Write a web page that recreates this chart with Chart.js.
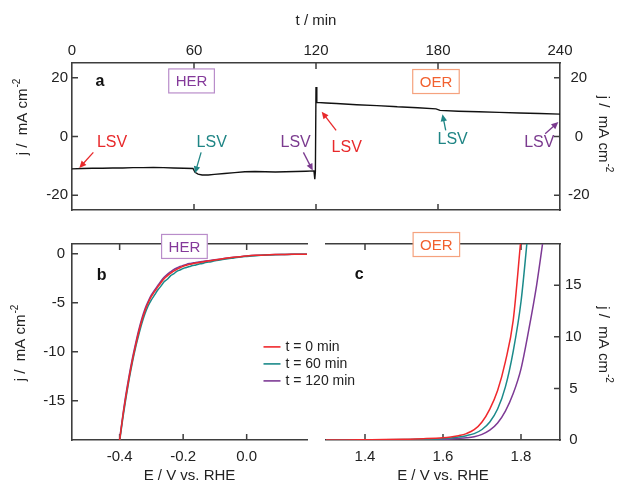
<!DOCTYPE html>
<html>
<head>
<meta charset="utf-8">
<title>HER / OER stability</title>
<script src="https://cdn.jsdelivr.net/npm/chart.js@4.4.1/dist/chart.umd.min.js"></script>
<style>
  html, body { margin: 0; padding: 0; background: #fff; }
  #wrap { position: relative; width: 618px; height: 483px; }
  #wrap canvas { position: absolute; left: 0; top: 0; }
</style>
</head>
<body>
<div id="wrap">
  <canvas id="chartA" width="618" height="483"></canvas>
  <canvas id="chartB" width="618" height="483"></canvas>
  <canvas id="chartC" width="618" height="483"></canvas>
</div>
<script>
// chronoamperometry: HER 0-120 min, then OER 120-240 min
const tMin = [0, 5, 10, 15, 20, 25, 30, 35, 40, 45, 50, 55, 59.5, 60.5, 62, 64, 67, 70,
  75, 80, 85, 90, 95, 100, 105, 110, 115, 119, 119.4, 119.7, 120, 120.4,
  125, 130, 140, 150, 158, 160, 170, 179, 181, 190, 200, 210, 220, 230, 240];
const jChrono = [-11.0, -10.9, -10.8, -10.8, -10.7, -10.7, -10.6, -10.6, -10.5, -10.6, -10.7, -10.8, -10.9, -12.2, -12.8, -13.1, -13.1, -12.9,
  -12.6, -12.3, -12.0, -11.9, -12.0, -12.1, -12.0, -11.9, -11.8, -11.7, -14.5, -12.0, 16.8, 11.6,
  11.4, 11.2, 10.8, 10.5, 10.2, 10.1, 9.8, 9.4, 8.9, 8.6, 8.4, 8.2, 8.0, 7.8, 7.6];

// LSV curves, HER side
const eHER = [-0.402, -0.39, -0.38, -0.37, -0.36, -0.35, -0.34, -0.33, -0.32, -0.31, -0.30, -0.29, -0.28, -0.27,
  -0.26, -0.25, -0.24, -0.23, -0.22, -0.21, -0.20, -0.19, -0.18, -0.17, -0.16, -0.15, -0.14, -0.13, -0.12,
  -0.10, -0.08, -0.06, -0.04, -0.02, 0.00, 0.03, 0.06, 0.09, 0.12, 0.15, 0.19];
const jHER0 = [-19.5, -16.6, -14.5, -12.6, -10.9, -9.4, -8.0, -6.8, -5.8, -5.0, -4.35, -3.85, -3.4, -2.95,
  -2.55, -2.25, -2.0, -1.78, -1.58, -1.42, -1.28, -1.17, -1.08, -1.01, -0.95, -0.89, -0.84, -0.78, -0.73,
  -0.63, -0.53, -0.44, -0.36, -0.29, -0.23, -0.16, -0.11, -0.08, -0.06, -0.05, -0.04];
const jHER60 = [-19.6, -16.8, -14.7, -12.8, -11.1, -9.6, -8.3, -7.1, -6.1, -5.3, -4.7, -4.2, -3.7, -3.3,
  -2.85, -2.6, -2.25, -2.05, -1.8, -1.65, -1.5, -1.4, -1.3, -1.2, -1.15, -1.05, -1.0, -0.88, -0.85,
  -0.72, -0.62, -0.5, -0.42, -0.33, -0.27, -0.19, -0.13, -0.09, -0.07, -0.05, -0.04];
const jHER120 = [-19.4, -16.5, -14.3, -12.4, -10.7, -9.2, -7.8, -6.6, -5.6, -4.85, -4.2, -3.7, -3.25, -2.8,
  -2.4, -2.1, -1.85, -1.62, -1.45, -1.3, -1.18, -1.08, -1.0, -0.94, -0.88, -0.83, -0.79, -0.74, -0.7,
  -0.61, -0.52, -0.44, -0.36, -0.29, -0.23, -0.16, -0.11, -0.08, -0.06, -0.05, -0.04];

// LSV curves, OER side
const eOER = [1.30, 1.35, 1.40, 1.45, 1.50, 1.55, 1.60, 1.62, 1.64, 1.66, 1.68, 1.70, 1.72, 1.74, 1.76, 1.78, 1.80, 1.82, 1.84, 1.86];
const jOER0 = [0, 0.01, 0.03, 0.05, 0.08, 0.13, 0.22, 0.30, 0.42, 0.62, 1.0, 1.75, 3.0, 4.8, 7.6, 11.6, 19.6, null, null, null];
const jOER60 = [0, 0, 0.01, 0.02, 0.04, 0.07, 0.13, 0.19, 0.28, 0.42, 0.62, 1.02, 1.75, 3.0, 5.15, 8.6, 13.4, 21.0, null, null];
const jOER120 = [0, 0, 0, 0.01, 0.02, 0.04, 0.07, 0.10, 0.15, 0.21, 0.32, 0.55, 0.95, 1.65, 2.8, 4.5, 6.9, 10.7, 15.0, 20.3];

const runLabels = ['t = 0 min', 't = 60 min', 't = 120 min'];

// tick values
const tTicks = [0, 60, 120, 180, 240];
const jTicksA = [-20, 0, 20];
const eTicksHER = [-0.4, -0.2, 0.0];
const jTicksHER = [-15, -10, -5, 0];
const eTicksOER = [1.4, 1.6, 1.8];
const jTicksOER = [0, 5, 10, 15];

const FONT = "'Liberation Sans', Arial, Helvetica, sans-serif";
const axisColor = '#3e3e3e';
const red = '#f0282c', teal = '#1b8a8a', purple = '#7d3a95';

Chart.defaults.font.family = FONT;
Chart.defaults.font.size = 15;
Chart.defaults.color = '#222';

const pts = (xs, ys) => xs.map((x, i) => ({ x: x, y: ys[i] }));
const fixTicks = vals => scale => { scale.ticks = vals.map(v => ({ value: v })); };

function inwardTicks(chart, id, sides) {
  const s = chart.scales[id], a = chart.chartArea, ctx = chart.ctx, len = 6;
  ctx.save();
  ctx.strokeStyle = axisColor;
  ctx.lineWidth = 1.5;
  ctx.beginPath();
  s.ticks.forEach(t => {
    const p = s.getPixelForValue(t.value);
    if (s.isHorizontal()) {
      if (p <= a.left + 1 || p >= a.right - 1) return;
      if (sides.includes('top')) { ctx.moveTo(p, a.top); ctx.lineTo(p, a.top + len); }
      if (sides.includes('bottom')) { ctx.moveTo(p, a.bottom); ctx.lineTo(p, a.bottom - len); }
    } else {
      if (p <= a.top + 1 || p >= a.bottom - 1) return;
      if (sides.includes('left')) { ctx.moveTo(a.left, p); ctx.lineTo(a.left + len, p); }
      if (sides.includes('right')) { ctx.moveTo(a.right, p); ctx.lineTo(a.right - len, p); }
    }
  });
  ctx.stroke();
  ctx.restore();
}

function arrow(ctx, x0, y0, x1, y1, color) {
  const ang = Math.atan2(y1 - y0, x1 - x0), head = 7, half = 3.2;
  const c = Math.cos(ang), s = Math.sin(ang);
  ctx.strokeStyle = color;
  ctx.fillStyle = color;
  ctx.lineWidth = 1.3;
  ctx.beginPath();
  ctx.moveTo(x0, y0);
  ctx.lineTo(x1 - head * 0.8 * c, y1 - head * 0.8 * s);
  ctx.stroke();
  ctx.beginPath();
  ctx.moveTo(x1, y1);
  ctx.lineTo(x1 - head * c + half * s, y1 - head * s - half * c);
  ctx.lineTo(x1 - head * c - half * s, y1 - head * s + half * c);
  ctx.closePath();
  ctx.fill();
}

// "j /  mA cm-2" with a raised exponent, rotated along the axis
function jTitle(ctx, cx, cy, rot) {
  const main = 'j /  mA cm', sup = '-2';
  ctx.save();
  ctx.translate(cx, cy);
  ctx.rotate(rot);
  ctx.fillStyle = '#222';
  ctx.textBaseline = 'middle';
  ctx.textAlign = 'left';
  ctx.font = '15px ' + FONT;
  const w1 = ctx.measureText(main).width;
  ctx.font = '10px ' + FONT;
  const w2 = ctx.measureText(sup).width;
  const x0 = -(w1 + w2 + 1) / 2;
  ctx.font = '15px ' + FONT;
  ctx.fillText(main, x0, 0);
  ctx.font = '10px ' + FONT;
  ctx.fillText(sup, x0 + w1 + 1, -6);
  ctx.restore();
}

function decorations(cfg) {
  return {
    id: 'decorations',
    beforeDatasetsDraw(chart) {
      cfg.ticks.forEach(([id, sides]) => inwardTicks(chart, id, sides));
    },
    afterDraw(chart) {
      const ctx = chart.ctx, a = chart.chartArea;
      const xs = chart.scales.x, ys = chart.scales.y;
      const px = v => xs.getPixelForValue(v), py = v => ys.getPixelForValue(v);
      ctx.save();

      // LSV markers
      (cfg.notes || []).forEach(n => {
        arrow(ctx, px(n.from[0]), py(n.from[1]), px(n.to[0]), py(n.to[1]), n.color);
        ctx.fillStyle = n.color;
        ctx.font = '16px ' + FONT;
        ctx.textAlign = 'center';
        ctx.textBaseline = 'middle';
        ctx.fillText('LSV', px(n.at[0]), py(n.at[1]));
      });

      // reaction tags
      (cfg.boxes || []).forEach(b => {
        ctx.font = '15px ' + FONT;
        const w = ctx.measureText(b.text).width + 14, h = 24;
        const cx = px(b.at[0]), cy = py(b.at[1]);
        ctx.fillStyle = '#fff';
        ctx.fillRect(cx - w / 2, cy - h / 2, w, h);
        ctx.strokeStyle = b.edge;
        ctx.lineWidth = 1.2;
        ctx.strokeRect(cx - w / 2, cy - h / 2, w, h);
        ctx.fillStyle = b.color;
        ctx.textAlign = 'center';
        ctx.textBaseline = 'middle';
        ctx.fillText(b.text, cx, cy + 1);
      });

      // panel letter
      if (cfg.letter) {
        ctx.fillStyle = '#111';
        ctx.font = 'bold 16px ' + FONT;
        ctx.textAlign = 'center';
        ctx.textBaseline = 'middle';
        ctx.fillText(cfg.letter.text, px(cfg.letter.at[0]), py(cfg.letter.at[1]));
      }

      // legend for the three LSV runs
      if (cfg.legend) {
        const lx = px(cfg.legend.at[0]), ly = py(cfg.legend.at[1]);
        chart.data.datasets.forEach((ds, i) => {
          const y = ly + i * 17;
          ctx.strokeStyle = ds.borderColor;
          ctx.lineWidth = 1.6;
          ctx.beginPath();
          ctx.moveTo(lx, y);
          ctx.lineTo(lx + 17, y);
          ctx.stroke();
          ctx.fillStyle = '#222';
          ctx.font = '14px ' + FONT;
          ctx.textAlign = 'left';
          ctx.textBaseline = 'middle';
          ctx.fillText(ds.label, lx + 22, y);
        });
      }

      // current density axis titles
      const mid = (a.top + a.bottom) / 2;
      (cfg.titles || []).forEach(t => {
        if (t.side === 'left') jTitle(ctx, a.left - t.gap, mid + t.shift, -Math.PI / 2);
        else jTitle(ctx, a.right + t.gap, mid + t.shift, Math.PI / 2);
      });
      ctx.restore();
    }
  };
}

const border = { display: true, color: axisColor, width: 1.6 };
const noGrid = { display: false, drawTicks: false };
const fixed = (prop, v) => scale => { scale[prop] = v; };

// panel a: current vs time
new Chart(document.getElementById('chartA'), {
  type: 'line',
  data: {
    datasets: [{
      data: pts(tMin, jChrono),
      borderColor: '#111',
      borderWidth: 1.4,
      pointRadius: 0,
      tension: 0
    }]
  },
  options: {
    responsive: false,
    animation: false,
    events: [],
    layout: { padding: 0 },
    plugins: { legend: { display: false }, tooltip: { enabled: false } },
    scales: {
      xt: {
        type: 'linear', position: 'top', min: 0, max: 240,
        afterBuildTicks: fixTicks(tTicks), afterFit: fixed('height', 63),
        grid: noGrid, border: border,
        ticks: { padding: 3, autoSkip: false, maxRotation: 0 },
        title: { display: true, text: 't / min', padding: { top: 12, bottom: 0 } }
      },
      x: {
        type: 'linear', position: 'bottom', min: 0, max: 240,
        afterBuildTicks: fixTicks(tTicks), afterFit: fixed('height', 273),
        grid: noGrid, border: border, ticks: { display: false }
      },
      y: {
        type: 'linear', position: 'left', min: -25, max: 25,
        afterBuildTicks: fixTicks(jTicksA), afterFit: fixed('width', 72),
        grid: noGrid, border: border,
        ticks: { padding: 4, callback: v => String(v) }
      },
      yr: {
        type: 'linear', position: 'right', min: -25, max: 25,
        afterBuildTicks: fixTicks(jTicksA), afterFit: fixed('width', 58),
        grid: noGrid, border: border,
        ticks: { padding: 8, crossAlign: 'center', callback: v => String(v) }
      }
    }
  },
  plugins: [decorations({
    ticks: [['x', ['top', 'bottom']], ['y', ['left', 'right']]],
    notes: [
      { color: '#e8292b', at: [19.7, -2.0], from: [10.5, -5.4], to: [3.6, -10.7] },
      { color: '#1f8585', at: [68.7, -2.0], from: [63.5, -5.4], to: [60.5, -12.5] },
      { color: '#7b3b8f', at: [110.0, -2.0], from: [113.8, -5.4], to: [118.4, -11.6] },
      { color: '#e8292b', at: [135.1, -3.7], from: [129.9, 2.1], to: [122.8, 8.4] },
      { color: '#1f8585', at: [187.2, -1.0], from: [183.8, 2.1], to: [182.2, 7.6] },
      { color: '#7b3b8f', at: [229.8, -2.0], from: [232.7, 0.9], to: [239.2, 4.9] }
    ],
    boxes: [
      { text: 'HER', at: [58.8, 18.9], color: '#84399a', edge: '#b98dca' },
      { text: 'OER', at: [179, 18.7], color: '#f2612f', edge: '#f5a27e' }
    ],
    letter: { text: 'a', at: [13.8, 18.8] },
    titles: [{ side: 'left', gap: 49, shift: -19.5 }, { side: 'right', gap: 43, shift: -2.5 }]
  })]
});

function lsvDatasets(x, ys) {
  return ys.map((y, i) => ({
    label: runLabels[i],
    data: pts(x, y),
    borderColor: [red, teal, purple][i],
    borderWidth: 1.5,
    pointRadius: 0,
    cubicInterpolationMode: 'monotone'
  }));
}

// panel b: HER polarisation curves
new Chart(document.getElementById('chartB'), {
  type: 'line',
  data: { datasets: lsvDatasets(eHER, [jHER0, jHER60, jHER120]) },
  options: {
    responsive: false,
    animation: false,
    events: [],
    layout: { padding: { right: 311 } },
    plugins: { legend: { display: false }, tooltip: { enabled: false } },
    scales: {
      x: {
        type: 'linear', position: 'bottom', min: -0.55, max: 0.19,
        afterBuildTicks: fixTicks(eTicksHER), afterFit: fixed('height', 43),
        grid: noGrid, border: border,
        ticks: { padding: 8, autoSkip: false, maxRotation: 0, callback: v => v.toFixed(1) },
        title: { display: true, text: 'E / V vs. RHE', padding: { top: 0, bottom: -2 } }
      },
      xt: {
        type: 'linear', position: 'top', min: -0.55, max: 0.19,
        afterFit: fixed('height', 244),
        grid: noGrid, border: border, ticks: { display: false }
      },
      y: {
        type: 'linear', position: 'left', min: -19, max: 1,
        afterBuildTicks: fixTicks(jTicksHER), afterFit: fixed('width', 72),
        grid: noGrid, border: border,
        ticks: { padding: 7, callback: v => String(v) }
      }
    }
  },
  plugins: [decorations({
    ticks: [['x', ['top', 'bottom']], ['y', ['left']]],
    boxes: [{ text: 'HER', at: [-0.196, 0.75], color: '#84399a', edge: '#b98dca' }],
    letter: { text: 'b', at: [-0.457, -2.2] },
    legend: { at: [0.053, -9.5] },
    titles: [{ side: 'left', gap: 51, shift: 1 }]
  })]
});

// panel c: OER polarisation curves
new Chart(document.getElementById('chartC'), {
  type: 'line',
  data: { datasets: lsvDatasets(eOER, [jOER0, jOER60, jOER120]) },
  options: {
    responsive: false,
    animation: false,
    events: [],
    layout: { padding: { left: 326 } },
    plugins: { legend: { display: false }, tooltip: { enabled: false } },
    scales: {
      x: {
        type: 'linear', position: 'bottom', min: 1.3, max: 1.9,
        afterBuildTicks: fixTicks(eTicksOER), afterFit: fixed('height', 43),
        grid: noGrid, border: border,
        ticks: { padding: 8, autoSkip: false, maxRotation: 0, callback: v => v.toFixed(1) },
        title: { display: true, text: 'E / V vs. RHE', padding: { top: 0, bottom: -2 } }
      },
      xt: {
        type: 'linear', position: 'top', min: 1.3, max: 1.9,
        afterFit: fixed('height', 244),
        grid: noGrid, border: border, ticks: { display: false }
      },
      y: {
        type: 'linear', position: 'right', min: 0, max: 19,
        afterBuildTicks: fixTicks(jTicksOER), afterFit: fixed('width', 58),
        grid: noGrid, border: border,
        ticks: { padding: 5, crossAlign: 'center', callback: v => String(v) }
      }
    }
  },
  plugins: [decorations({
    ticks: [['x', ['top', 'bottom']], ['y', ['right']]],
    boxes: [{ text: 'OER', at: [1.583, 18.95], color: '#f2612f', edge: '#f5a27e' }],
    letter: { text: 'c', at: [1.385, 16.0] },
    titles: [{ side: 'right', gap: 43, shift: 2.5 }]
  })]
});
</script>
</body>
</html>
